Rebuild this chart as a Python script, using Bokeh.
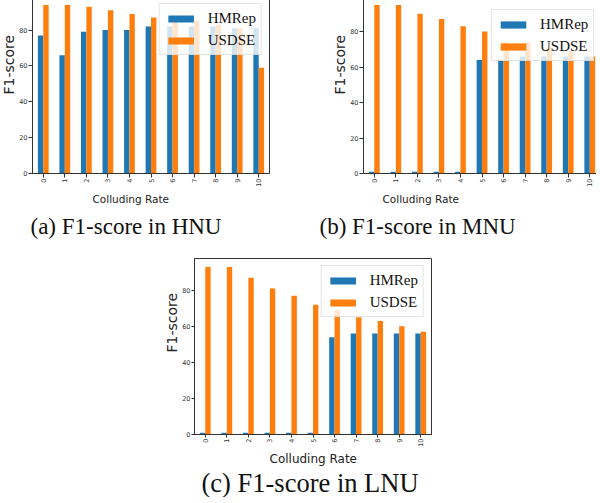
import math
from bokeh.plotting import figure
from bokeh.models import Range1d, FixedTicker, Title, ColumnDataSource, Span
from bokeh.layouts import column, row
from bokeh.transform import dodge
from bokeh.embed import file_html
from bokeh.resources import INLINE

# ---- data ----
rates = [0, 1, 2, 3, 4, 5, 6, 7, 8, 9, 10]
y_ticks = [0, 20, 40, 60, 80]
series = ["HMRep", "USDSE"]
colors = ["#1f77b4", "#ff7f0e"]

hnu_hmrep = [77, 66, 79, 80, 80, 82, 82, 82, 82, 81, 81]
hnu_usdse = [94, 94, 93, 91, 89, 87, 85, 85, 83, 81, 59]
mnu_hmrep = [1, 1, 1, 1, 1, 64, 64, 66, 66, 66, 66]
mnu_usdse = [95, 95, 90, 87, 83, 80, 74, 74, 71, 69, 66]
lnu_hmrep = [1, 1, 1, 1, 1, 1, 54, 56, 56, 56, 56]
lnu_usdse = [93, 93, 87, 81, 77, 72, 69, 65, 63, 60, 57]

captions = ["(a) F1-score in HNU", "(b) F1-score in MNU", "(c) F1-score in LNU"]
x_label = "Colluding Rate"
y_label = "F1-score"

SPINE = "#333333"


def panel(hm, us, caption, x_end, frame_w, frame_h, b_left, b_right, b_top, b_bottom,
          yl_off, xl_off, cap_off, xl_size="10.5px", cap_size="23px",
          xl_stand=3, cap_stand=11, tick_out=4, outline=True,
          legend_loc="top_right", legend_margin=7):
    src = ColumnDataSource(dict(rate=rates, hm=hm, us=us))
    ymax = max(hm + us) * 1.05
    p = figure(x_range=Range1d(-0.5, x_end), y_range=Range1d(0, ymax),
               frame_width=frame_w, frame_height=frame_h,
               min_border_left=b_left, min_border_right=b_right,
               min_border_top=b_top, min_border_bottom=b_bottom,
               output_backend="svg", toolbar_location=None, title=None)
    p.vbar(x=dodge("rate", -0.125), top="hm", width=0.25, source=src,
           fill_color=colors[0], line_color=None, legend_label=series[0])
    p.vbar(x=dodge("rate", 0.125), top="us", width=0.25, source=src,
           fill_color=colors[1], line_color=None, legend_label=series[1])

    p.grid.visible = False
    p.background_fill_color = "white"
    p.border_fill_color = "white"
    if outline:
        p.outline_line_color = SPINE
        p.outline_line_width = 1
    else:
        p.outline_line_color = None
        p.add_layout(Span(location=ymax, dimension="width", line_color=SPINE, line_width=1))

    p.xaxis.ticker = FixedTicker(ticks=rates)
    p.yaxis.ticker = FixedTicker(ticks=y_ticks)
    p.xaxis.major_label_orientation = math.pi / 2
    for ax in (p.xaxis, p.yaxis):
        ax.axis_line_color = SPINE
        ax.major_tick_line_color = SPINE
        ax.major_tick_out = tick_out
        ax.major_tick_in = 0
        ax.minor_tick_line_color = None
        ax.major_label_text_font = "DejaVu Sans"
        ax.major_label_text_font_size = "6.5px"
        ax.major_label_text_color = "#333333"
        ax.major_label_standoff = 1

    p.add_layout(Title(text=y_label, align="left", offset=yl_off, standoff=0,
                       text_font="DejaVu Sans", text_font_size="14px",
                       text_font_style="normal", text_color="#222222"), "left")
    p.add_layout(Title(text=x_label, align="left", offset=xl_off, standoff=xl_stand,
                       text_font="DejaVu Sans", text_font_size=xl_size,
                       text_font_style="normal", text_color="#222222"), "below")
    p.add_layout(Title(text=caption, align="left", offset=cap_off, standoff=cap_stand,
                       text_font="Liberation Serif", text_font_size=cap_size,
                       text_font_style="normal", text_color="#111111"), "below")

    lg = p.legend[0]
    lg.location = legend_loc
    lg.margin = legend_margin
    lg.padding = 5
    lg.spacing = 4
    lg.label_standoff = 11
    lg.glyph_width = 32
    lg.glyph_height = 9
    lg.label_height = 18
    lg.label_text_font = "Liberation Serif"
    lg.label_text_font_size = "15px"
    lg.label_text_color = "#111111"
    lg.border_line_color = "#cccccc"
    lg.border_line_width = 1
    lg.background_fill_color = "white"
    lg.background_fill_alpha = 0.8
    return p


pa = panel(hnu_hmrep, hnu_usdse, captions[0], 10.5, 237, 177, 31, 40, 0, 68,
           79, 60, -2)
pb = panel(mnu_hmrep, mnu_usdse, captions[1], -0.5 + 233 / 21.55, 233, 177, 54, 0, 0, 68,
           79, 19, -44, outline=False, legend_loc=(128, 112), legend_margin=0)
pc = panel(lnu_hmrep, lnu_usdse, captions[2], 10.5, 237, 176, 196, 10, 14, 40,
           82, 75, 7, xl_size="12px", cap_size="26.5px", xl_stand=0, cap_stand=0,
           tick_out=3)

root = column(row(pa, pb), pc, margin=(-4, 0, -10, -2))

with open("out.html", "w") as f:
    f.write(file_html(root, INLINE))
